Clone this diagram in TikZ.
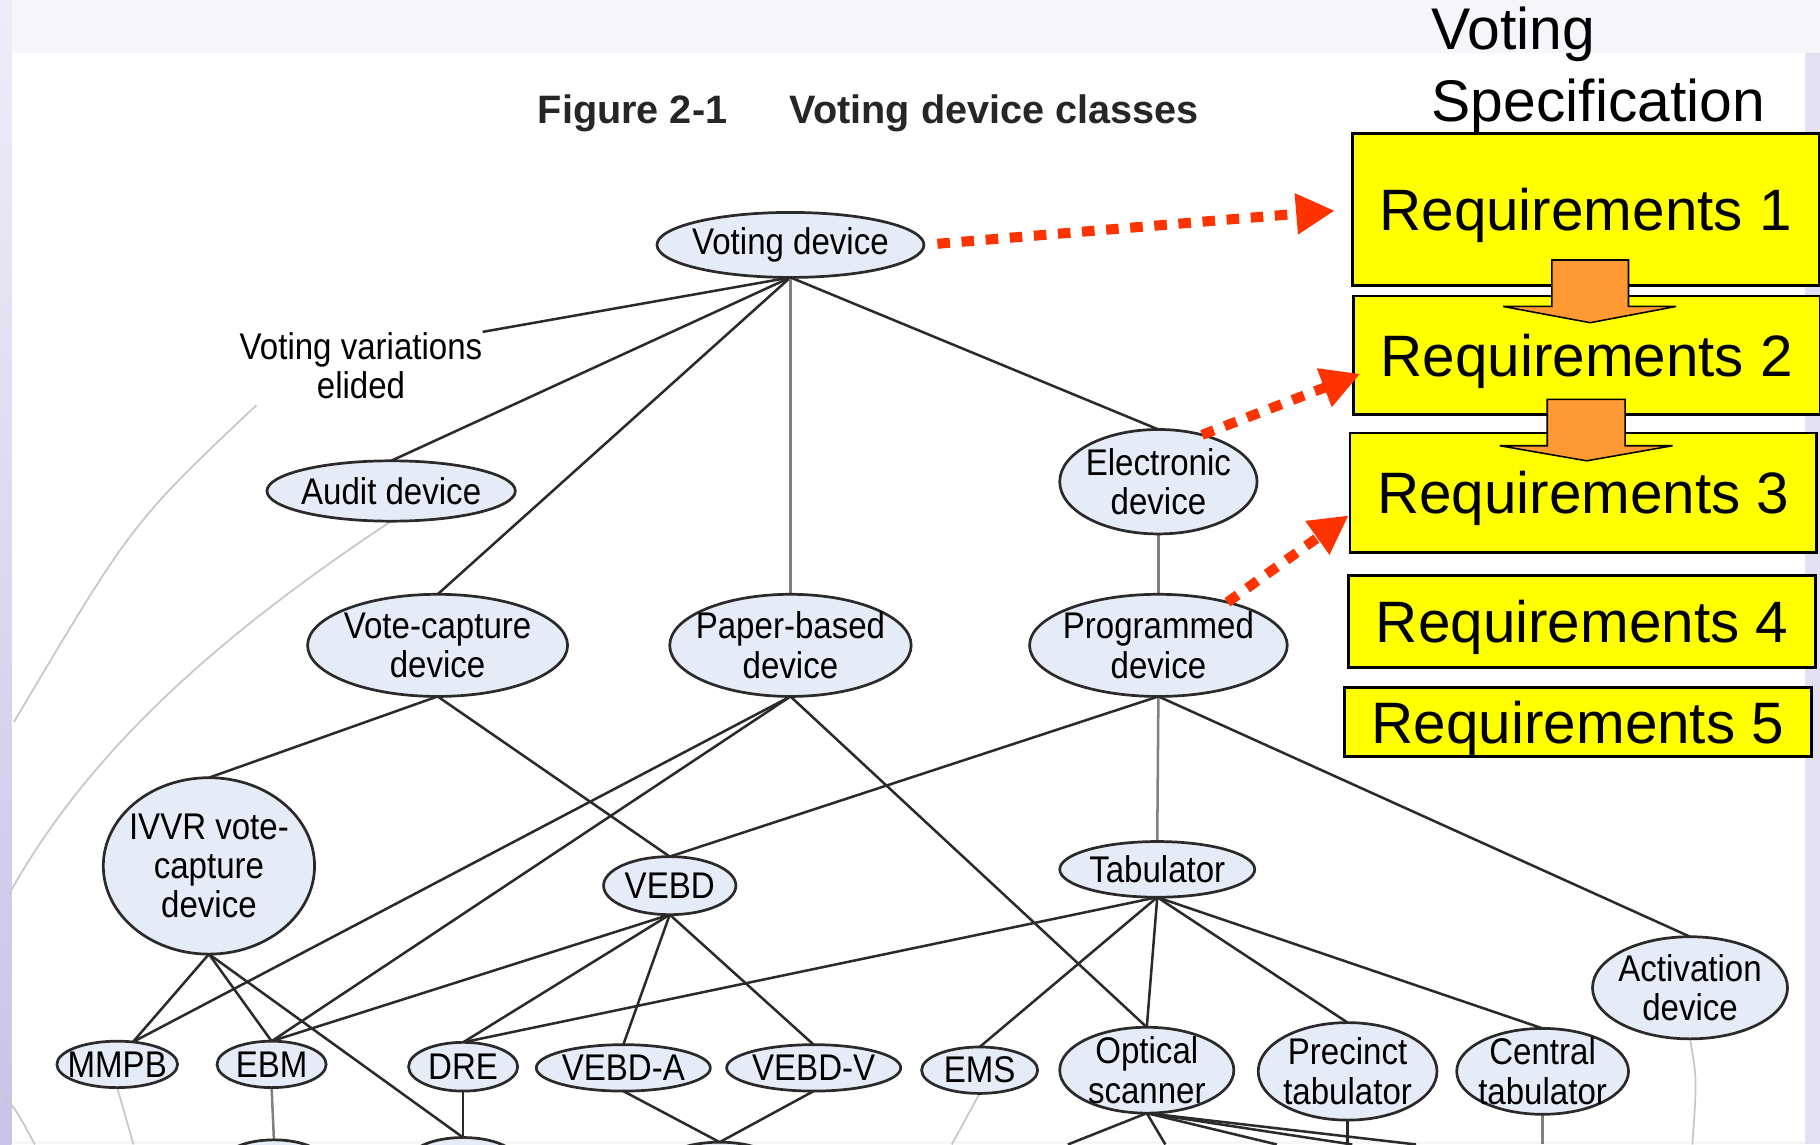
\documentclass[tikz,border=0pt]{standalone}
\usepackage{fontspec}
\setmainfont{Liberation Sans}
\newfontfamily\nodefont[FakeStretch=0.89]{Liberation Sans}
\usetikzlibrary{shapes.geometric,arrows.meta}
\definecolor{nodefill}{HTML}{E6ECF7}
\definecolor{edgec}{HTML}{2A2A2A}
\definecolor{redc}{HTML}{FF3300}
\definecolor{reqyellow}{HTML}{FFFF00}
\definecolor{orangec}{HTML}{FF9933}
\definecolor{slidebg}{HTML}{F6F6FA}
\definecolor{lav}{HTML}{E3E0F3}
\definecolor{lavdark}{HTML}{C9C3E8}
\pgfdeclarelayer{bg}
\pgfsetlayers{bg,main}
\begin{document}
\begin{tikzpicture}[x=0.6pt,y=-0.6pt,
  dev/.style={ellipse, draw=edgec, line width=1.4pt, fill=nodefill, inner sep=0pt, outer sep=0pt},
  lab/.style={font=\nodefont\fontsize{19.2pt}{20.4pt}\selectfont, align=center, inner sep=0pt, text=black},
  edge/.style={draw=edgec, line width=1.3pt},
  gedge/.style={draw=black!50, line width=1.3pt},
  faint/.style={draw=black!22, line width=0.9pt},
  req/.style={draw=black, line width=1.4pt, fill=reqyellow, inner sep=0pt, text=black, text depth=0pt, font=\fontsize{30.2pt}{35pt}\selectfont},
  spec/.style={inner sep=0pt, text=black, font=\fontsize{30.4pt}{36pt}\selectfont},
  title/.style={inner sep=0pt, text=black!85, font=\bfseries\fontsize{20.5pt}{24pt}\selectfont},
  redarrow/.style={draw=redc, line width=5.2pt, dash pattern=on 6.5pt off 6pt, -{Triangle[length=20pt,width=20pt]}, redc},
  blockarrow/.style={fill=orangec, draw=black, line width=0.8pt, line join=miter}
]
\useasboundingbox (0,0) rectangle (1568,986);
\clip (0,0) rectangle (1568,986);

% ---------------- device nodes ----------------
\node[dev, minimum width=138pt,  minimum height=33.6pt] (vd)    at (681,211) {};
\node[dev, minimum width=128.4pt,minimum height=31.2pt] (audit) at (337,423) {};
\node[dev, minimum width=134.4pt,minimum height=52.8pt] (vc)    at (377,556) {};
\node[dev, minimum width=124.8pt,minimum height=52.8pt] (pb)    at (681,556) {};
\node[dev, minimum width=102pt,  minimum height=54pt]   (el)    at (998,415) {};
\node[dev, minimum width=133.2pt,minimum height=52.8pt] (pd)    at (998,556) {};
\node[dev, minimum width=109.2pt,minimum height=91.2pt] (ivvr)  at (180,746) {};
\node[dev, minimum width=68.4pt, minimum height=30pt]   (vebd)  at (577,763) {};
\node[dev, minimum width=100.8pt,minimum height=28.8pt] (tab)   at (997,749) {};
\node[dev, minimum width=100.8pt,minimum height=52.8pt] (act)   at (1456,851) {};
\node[dev, minimum width=62.4pt, minimum height=24pt]   (mmpb)  at (101,917) {};
\node[dev, minimum width=56.4pt, minimum height=24pt]   (ebm)   at (234,917) {};
\node[dev, minimum width=56.4pt, minimum height=25.2pt] (dre)   at (399,919) {};
\node[dev, minimum width=90pt,   minimum height=24pt]   (vebda) at (537,920) {};
\node[dev, minimum width=90pt,   minimum height=24pt]   (vebdv) at (701,920) {};
\node[dev, minimum width=60pt,   minimum height=24pt]   (ems)   at (844,922) {};
\node[dev, minimum width=90pt,   minimum height=44.4pt] (opt)   at (988,922) {};
\node[dev, minimum width=92.4pt, minimum height=50.4pt] (prec)  at (1161,923) {};
\node[dev, minimum width=88.8pt, minimum height=44.4pt] (cent)  at (1329,923) {};
% cut-off nodes at the bottom edge
\node[dev, minimum width=54pt, minimum height=24pt] (b1) at (236,1002) {};
\node[dev, minimum width=56pt, minimum height=24pt] (b2) at (399,1000) {};
\node[dev, minimum width=60pt, minimum height=24pt] (b3) at (620,1004) {};

% ---------------- node texts ----------------
\node[lab] (vdt)    at (vd)    {Voting device};
\node[lab] (auditt) at (audit) {Audit device};
\node[lab] (vct)    at (vc)    {Vote-capture\\device};
\node[lab] (pbt)    at (pb)    {Paper-based\\device};
\node[lab] (elt)    at (el)    {Electronic\\device};
\node[lab] (pdt)    at (pd)    {Programmed\\device};
\node[lab] (ivvrt)  at (ivvr)  {IVVR vote-\\capture\\device};
\node[lab] (vebdt)  at (vebd)  {VEBD};
\node[lab] (tabt)   at (tab)   {Tabulator};
\node[lab] (actt)   at (act)   {Activation\\device};
\node[lab] (mmpbt)  at (mmpb)  {MMPB};
\node[lab] (ebmt)   at (ebm)   {EBM};
\node[lab] (dret)   at (dre)   {DRE};
\node[lab] (vebdat) at (vebda) {VEBD-A};
\node[lab] (vebdvt) at (vebdv) {VEBD-V};
\node[lab] (emst)   at (ems)   {EMS};
\node[lab] (optt)   at (opt)   {Optical\\scanner};
\node[lab] (prect)  at (prec)  {Precinct\\tabulator};
\node[lab] (centt)  at (cent)  {Central\\tabulator};
\node[lab] (vv)     at (311,315) {Voting variations\\elided};

% ---------------- titles ----------------
\node[title, anchor=base west] (fig)  at (463,106) {Figure 2-1};
\node[title, anchor=base west] (figc) at (680,106) {Voting device classes};
\node[spec, anchor=base west] (spec1) at (1233,43)  {Voting};
\node[spec, anchor=base west] (spec2) at (1233,105) {Specification};

% ---------------- requirement boxes ----------------
\node[req, minimum width=241.2pt, minimum height=78.6pt] (r1) at (1366,180.5) {Requirements 1};
\node[req, minimum width=241.2pt, minimum height=61.2pt] (r2) at (1367,306)   {Requirements 2};
\node[req, minimum width=241.2pt, minimum height=61.8pt] (r3) at (1364,424.5) {Requirements 3};
\node[req, minimum width=241.2pt, minimum height=47.4pt] (r4) at (1363,535.5) {Requirements 4};
\node[req, minimum width=241.2pt, minimum height=36pt]   (r5) at (1359.5,622) {Requirements 5};

\coordinate (tk) at (1271,106);
\draw[line width=1pt] (tk) -- (tk |- r1.north);

% orange block arrows
\draw[blockarrow] (1337,224) -- (1403,224) -- (1403,264) -- (1444,264) -- (1370,278) -- (1295,264) -- (1337,264) -- cycle;
\draw[blockarrow] (1333,344) -- (1400,344) -- (1400,384) -- (1441,384) -- (1367,397) -- (1292,384) -- (1333,384) -- cycle;

% red dotted arrows
\coordinate (t1) at (1150,181.5);
\coordinate (t2) at (1172,322);
\coordinate (t3) at (1162,444);
\draw[redarrow, shorten <=7pt] (vd.east) -- (t1);
\draw[redarrow] (el.47) -- (t2);
\draw[redarrow] (pd.32) -- (t3);

% ---------------- background and edges ----------------
\begin{pgfonlayer}{bg}
\fill[slidebg] (0,0) rectangle (1568,986);
\shade[top color=lav!60, bottom color=lavdark] (0,0) rectangle (10,986);
\fill[lav] (1555,46) rectangle (1568,986);
\fill[white] (10,46) rectangle (1555,983);

% faint elided links
\draw[faint] (221,349) .. controls (114,450) .. (12,622);
\draw[faint] (audit.south) .. controls (200,540) and (80,640) .. (8,770);
\draw[faint] (2,942) .. controls (15,958) .. (30,986);

% hierarchy
\draw[edge] (vd.south) -- (vv.north east);
\draw[edge] (vd.south) -- (audit.north);
\draw[edge] (vd.south) -- (vc.north);
\draw[gedge] (vd.south) -- (pb.north);
\draw[edge] (vd.south) -- (el.north);
\draw[gedge] (el.south) -- (pd.north);
\draw[edge] (vc.south) -- (ivvr.north);
\draw[edge] (vc.south) -- (vebd.north);
\draw[edge] (pb.south) -- (mmpb.55);
\draw[edge] (pb.south) -- (ebm.north);
\draw[edge] (pb.south) -- (opt.north);
\draw[edge] (pd.south) -- (vebd.north);
\draw[gedge] (pd.south) -- (tab.north);
\draw[edge] (pd.south) -- (act.north);
\draw[edge] (ivvr.south) -- (mmpb.55);
\draw[edge] (ivvr.south) -- (ebm.north);
\draw[edge] (ivvr.south) -- (b2.north);
\draw[edge] (vebd.south) -- (ebm.north);
\draw[edge] (vebd.south) -- (dre.north);
\draw[edge] (vebd.south) -- (vebda.north);
\draw[edge] (vebd.south) -- (vebdv.north);
\draw[edge] (tab.south) -- (dre.north);
\draw[edge] (tab.south) -- (ems.north);
\draw[edge] (tab.south) -- (opt.north);
\draw[edge] (tab.south) -- (prec.north);
\draw[edge] (tab.south) -- (cent.north);

% links leaving the bottom edge
\coordinate (mmpbB) at (115,986);
\coordinate (emsB)  at (820,986);
\coordinate (oB1)   at (920,986);
\coordinate (oB2)   at (1004,986);
\coordinate (oB3)   at (1100,986);
\coordinate (oB4)   at (1165,986);
\coordinate (oB5)   at (1220,986);
\coordinate (precB) at (1161,986);
\coordinate (centB) at (1329,986);
\coordinate (actB)  at (1458,986);
\draw[faint] (mmpb.south) -- (mmpbB);
\draw[gedge] (ebm.south) -- (b1.north);
\draw[edge] (dre.south) -- (b2.north);
\draw[edge] (vebda.south) -- (b3.north);
\draw[edge] (vebdv.south) -- (b3.north);
\draw[faint] (ems.south) -- (emsB);
\draw[edge] (opt.south) -- (oB1);
\draw[edge] (opt.south) -- (oB2);
\draw[edge] (opt.south) -- (oB3);
\draw[edge] (opt.south) -- (oB4);
\draw[edge] (opt.south) -- (oB5);
\draw[edge] (prec.south) -- (precB);
\draw[gedge] (cent.south) -- (centB);
\draw[faint] (act.south) .. controls (1462,930) .. (actB);
\end{pgfonlayer}
\end{tikzpicture}
\end{document}
